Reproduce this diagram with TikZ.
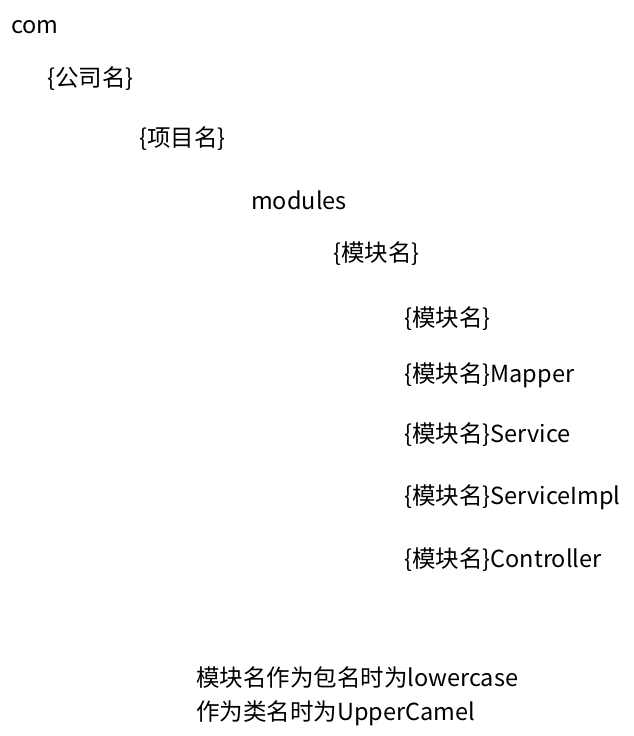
\documentclass[tikz,border=0pt]{standalone}
\usepackage{fontspec}
\setmainfont{Noto Sans CJK SC}
\usepackage{tikz}
\usetikzlibrary{positioning}

\begin{document}
\begin{tikzpicture}[x=1pt, y=-1pt, pkg/.style={anchor=west, inner sep=0pt, font=\fontsize{23.5}{28}\selectfont}]
\useasboundingbox (0,0) rectangle (634,736);
\node[pkg] (com) at (11,27) {com};
\node[pkg] (company) at (47,79) {\{公司名\}};
\node[pkg] (project) at (139,139) {\{项目名\}};
\node[pkg] (modules) at (251,200) {modules};
\node[pkg] (module) at (333,254) {\{模块名\}};
\node[pkg] (entity) at (404,319) {\{模块名\}};
\node[pkg] (mapper) at (404,375) {\{模块名\}Mapper};
\node[pkg] (service) at (404,435) {\{模块名\}Service};
\node[pkg] (impl) at (404,497) {\{模块名\}ServiceImpl};
\node[pkg] (controller) at (404,560) {\{模块名\}Controller};
\node[pkg] (note1) at (196,678) {模块名作为包名时为lowercase};
\node[pkg] (note2) at (196,713) {作为类名时为UpperCamel};
\end{tikzpicture}
\end{document}
